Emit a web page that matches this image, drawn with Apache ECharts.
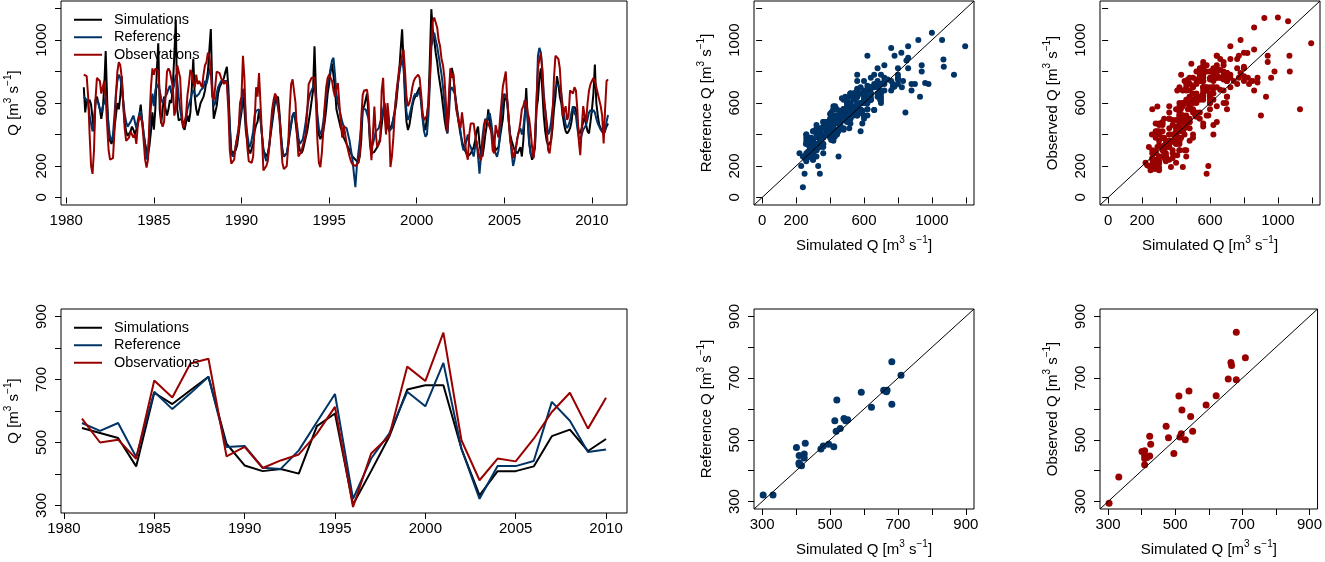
<!DOCTYPE html>
<html>
<head>
<meta charset="utf-8">
<script src="https://cdn.jsdelivr.net/npm/echarts@6.0.0/dist/echarts.min.js"></script>
<style>
  html, body { margin: 0; padding: 0; background: #fff; }
  #chart { width: 1325px; height: 562px; }
</style>
</head>
<body>
<div id="chart"></div>
<script>
// monthly discharge, one row per year (1981 ... 2010)
var startYear = 1981;
var simMonthly = [
	700,540,620,600,620,590,580,420,620,640,600,560,
	500,560,700,930,620,420,360,340,380,440,520,600,
	560,640,770,600,480,420,390,400,420,450,430,400,
	400,460,520,590,480,400,340,300,270,330,420,540,
	430,560,800,980,560,470,560,640,560,520,560,620,
	600,720,900,1130,560,490,480,500,450,430,440,520,
	480,540,700,880,640,560,520,560,600,620,640,680,
	680,800,940,1070,700,500,500,580,660,700,720,740,
	760,800,830,700,460,300,280,290,300,330,400,480,
	540,640,560,420,360,300,280,290,340,420,460,480,
	550,500,400,300,280,260,280,330,400,470,540,610,
	600,640,540,400,300,260,250,280,330,400,460,520,
	540,480,400,340,300,280,300,340,380,420,480,540,
	540,680,960,680,480,400,370,380,420,480,560,660,
	720,800,850,860,700,560,520,480,440,420,380,360,
	360,320,300,280,260,250,240,230,220,260,360,560,
	580,620,660,520,340,280,280,290,300,320,340,380,
	460,540,580,500,450,430,440,460,500,540,600,700,
	800,940,1068,860,620,480,428,460,520,580,620,640,
	640,680,700,620,520,450,428,440,600,880,1196,1060,
	1000,920,860,780,720,660,580,500,440,407,600,760,
	823,780,680,600,520,460,400,360,320,300,280,260,
	258,280,300,320,360,420,450,340,280,260,320,400,
	460,560,480,420,380,340,300,290,320,380,440,500,
	620,640,600,480,400,360,330,300,290,280,300,320,
	260,360,520,695,500,360,280,240,260,320,560,620,
	760,820,680,520,420,360,330,330,360,440,560,640,
	770,720,640,600,520,460,420,407,420,440,480,560,
	577,560,480,420,407,440,480,513,460,420,407,480,
	560,660,844,600,520,460,440,420,400,428,450,470
];
var refMonthly = [
	640,630,620,600,520,470,420,500,600,620,600,560,
	540,580,600,640,560,460,380,360,400,520,660,740,
	780,760,700,620,530,480,450,450,480,500,520,530,
	440,490,530,550,490,410,340,240,290,430,580,660,
	580,680,720,720,680,630,600,620,640,660,690,710,
	660,680,720,780,740,640,560,500,470,480,500,560,
	560,620,660,680,660,640,640,660,680,680,700,740,
	720,760,800,830,680,580,600,660,700,720,740,750,
	740,750,740,620,440,280,260,280,320,380,440,520,
	560,690,660,500,400,340,320,330,420,520,550,560,
	560,500,400,310,260,230,260,330,420,500,580,640,
	620,620,520,400,300,260,250,280,340,420,470,520,
	540,540,460,380,340,330,370,420,480,560,620,660,
	660,700,727,640,520,440,400,420,480,560,640,720,
	760,820,870,887,780,660,600,560,520,480,450,440,
	440,400,360,300,240,150,65,200,280,360,450,560,
	560,560,556,500,380,320,340,380,420,420,440,480,
	500,560,600,540,470,420,410,440,500,560,640,720,
	780,840,876,820,680,540,492,520,560,600,640,660,
	640,660,680,600,500,420,385,400,520,720,960,1000,
	1047,1000,960,900,840,780,700,600,480,410,520,680,
	700,705,660,600,540,480,420,340,300,320,360,400,
	340,320,290,260,320,360,260,151,260,380,460,500,
	480,520,535,480,400,320,280,258,300,400,520,620,
	660,660,620,500,380,280,200,240,320,380,420,440,
	400,440,520,620,480,340,278,260,280,340,560,900,
	950,920,820,660,560,480,400,420,480,560,640,700,
	720,720,700,660,580,520,460,440,460,490,540,580,
	535,520,440,380,365,400,430,440,460,500,540,556,
	540,556,540,500,470,450,430,420,407,420,480,524
];
var obsMonthly = [
	780,780,770,640,400,200,150,300,620,760,760,740,
	660,700,740,640,460,300,240,230,250,420,640,800,
	860,840,760,600,440,360,350,380,420,400,380,400,
	340,460,520,520,480,360,240,190,240,500,700,820,
	780,820,830,800,660,480,450,480,640,800,820,800,
	800,700,520,560,840,850,760,560,440,430,520,650,
	720,810,790,730,700,780,720,740,750,700,780,840,
	860,920,900,800,640,620,700,800,810,790,760,740,
	720,740,720,560,300,215,215,240,330,380,420,600,
	640,900,760,460,320,230,220,220,260,480,700,640,
	790,600,400,172,180,200,230,320,450,560,620,660,
	640,580,500,360,220,180,172,200,330,560,720,750,
	740,600,400,260,258,290,330,320,400,540,720,740,
	760,750,760,600,360,220,193,280,420,580,700,760,
	780,770,740,680,640,700,727,600,480,380,460,400,
	340,300,260,230,210,200,200,205,220,280,500,650,
	680,690,684,600,360,236,400,577,400,320,340,360,
	680,760,520,400,600,500,193,260,380,540,660,740,
	820,860,900,940,800,640,580,600,640,700,740,760,
	770,780,760,660,540,490,500,520,600,760,980,1120,
	1143,1140,1080,1000,960,880,840,760,600,420,640,820,
	760,790,680,560,520,460,440,540,460,360,280,240,
	400,470,470,470,400,340,300,258,236,300,420,492,
	492,470,480,420,300,280,460,420,380,492,600,705,
	700,800,620,500,360,320,250,260,320,380,420,480,
	560,580,620,600,540,500,420,320,250,380,620,820,
	880,918,800,620,556,440,300,280,360,520,760,900,
	900,880,820,660,513,520,580,492,520,680,680,660,
	700,680,560,360,268,440,580,520,480,600,680,720,
	740,760,740,700,660,620,580,520,343,560,740,750
];

// annual means 1981 ... 2010
var simAnnual = [546,530,514,424,658,622,666,709,496,427,409,416,401,552,592,303,409,518,668,682,682,480,332,409,409,424,520,541,473,511];
var refAnnual = [562,537,562,454,661,606,656,709,486,489,420,416,475,565,654,321,449,528,661,615,753,480,321,425,425,441,629,569,470,478];
var obsAnnual = [576,500,509,448,697,643,751,766,456,486,419,443,462,528,613,295,465,520,741,695,849,507,380,449,440,512,597,658,544,642];

var seriesNames = ['Simulations', 'Reference', 'Observations'];
var yearTicks = [1980, 1985, 1990, 1995, 2000, 2005, 2010];
var qTicksTop = [0, 200, 400, 600, 800, 1000, 1200];
var qLabelsTop = [0, 200, 600, 1000];
var qTicksBottom = [300, 400, 500, 600, 700, 800, 900];
var qLabelsBottom = [300, 500, 700, 900];

var FONT = 'Liberation Sans, Arial, sans-serif';
var colSim = '#000000', colRef = '#003366', colObs = '#990000';
var topRange = [-48, 1248], botRange = [276, 924];

function monthly(arr) {
	return arr.map(function(v, i) { return [startYear + i / 12, v]; });
}
function annual(arr) {
	return arr.map(function(v, i) { return [startYear + i, v]; });
}
function pairs(a, b) {
	return a.map(function(v, i) { return [v, b[i]]; });
}

var nameStyle = {
	fontSize: 15, color: '#000', fontFamily: FONT, lineHeight: 22,
	rich: { sup: { fontSize: 10, color: '#000', fontFamily: FONT, verticalAlign: 'top' } }
};
var unit = ' [m{sup|3} s{sup|\u22121}]';

function axis(gridIndex, range, ticks, labels, name, isY) {
	return {
		type: 'value',
		gridIndex: gridIndex,
		min: range[0],
		max: range[1],
		name: name,
		nameLocation: 'middle',
		nameGap: isY ? 36 : 30,
		nameTextStyle: nameStyle,
		axisLine: { show: false },
		splitLine: { show: false },
		axisTick: { show: true, length: 6, customValues: ticks, lineStyle: { color: '#000', width: 1 } },
		axisLabel: {
			customValues: labels,
			rotate: isY ? 90 : 0,
			margin: isY ? 12 : 8,
			fontSize: 15, color: '#000', fontFamily: FONT,
			formatter: function(v) { return String(v); }
		}
	};
}

function line(name, data, color, gi) {
	return { type: 'line', name: name, data: data, xAxisIndex: gi, yAxisIndex: gi,
		symbol: 'none', lineStyle: { color: color, width: 2 }, itemStyle: { color: color } };
}
function dots(name, data, color, gi, size) {
	return { type: 'scatter', name: name, data: data, xAxisIndex: gi, yAxisIndex: gi,
		symbolSize: size, itemStyle: { color: color, opacity: 1 } };
}
function oneToOne(gi, range) {
	return { type: 'line', name: '1:1', xAxisIndex: gi, yAxisIndex: gi, z: 5,
		data: [[range[0], range[0]], [range[1], range[1]]],
		symbol: 'none', lineStyle: { color: '#000', width: 1 } };
}
function legendAt(top) {
	return {
		data: seriesNames, orient: 'vertical', left: 74, top: top, padding: 0,
		itemWidth: 28, itemHeight: 2, itemGap: 0, icon: 'rect', selectedMode: false,
		textStyle: { fontSize: 14.5, color: '#000', fontFamily: FONT, lineHeight: 17.5, padding: [0, 0, 0, 7] }
	};
}

var gridBox = { show: true, borderColor: '#000', borderWidth: 1, backgroundColor: 'transparent' };
function grid(left, top, width, height) {
	return Object.assign({ left: left, top: top, width: width, height: height }, gridBox);
}

var chart = echarts.init(document.getElementById('chart'));
chart.setOption({
	animation: false,
	backgroundColor: '#fff',
	grid: [
		grid(61, 1, 566, 204),
		grid(754, 1, 220, 204),
		grid(1100, 1, 220, 204),
		grid(61, 309, 566, 204),
		grid(754, 309, 220, 204),
		grid(1100, 309, 220, 204)
	],
	xAxis: [
		axis(0, [1979.7, 2012.0], yearTicks, yearTicks, '', false),
		axis(1, topRange, qTicksTop, qLabelsTop, 'Simulated Q' + unit, false),
		axis(2, topRange, qTicksTop, qLabelsTop, 'Simulated Q' + unit, false),
		axis(3, [1979.84, 2011.16], yearTicks, yearTicks, '', false),
		axis(4, botRange, qTicksBottom, qLabelsBottom, 'Simulated Q' + unit, false),
		axis(5, botRange, qTicksBottom, qLabelsBottom, 'Simulated Q' + unit, false)
	],
	yAxis: [
		axis(0, topRange, qTicksTop, qLabelsTop, 'Q' + unit, true),
		axis(1, topRange, qTicksTop, qLabelsTop, 'Reference Q' + unit, true),
		axis(2, topRange, qTicksTop, qLabelsTop, 'Observed Q' + unit, true),
		axis(3, botRange, qTicksBottom, qLabelsBottom, 'Q' + unit, true),
		axis(4, botRange, qTicksBottom, qLabelsBottom, 'Reference Q' + unit, true),
		axis(5, botRange, qTicksBottom, qLabelsBottom, 'Observed Q' + unit, true)
	],
	legend: [legendAt(11), legendAt(319)],
	series: [
		line('Simulations', monthly(simMonthly), colSim, 0),
		line('Reference', monthly(refMonthly), colRef, 0),
		line('Observations', monthly(obsMonthly), colObs, 0),
		dots('ref-sim monthly', pairs(simMonthly, refMonthly), colRef, 1, 6),
		oneToOne(1, topRange),
		dots('obs-sim monthly', pairs(simMonthly, obsMonthly), colObs, 2, 6),
		oneToOne(2, topRange),
		line('Simulations', annual(simAnnual), colSim, 3),
		line('Reference', annual(refAnnual), colRef, 3),
		line('Observations', annual(obsAnnual), colObs, 3),
		dots('ref-sim annual', pairs(simAnnual, refAnnual), colRef, 4, 7),
		oneToOne(4, botRange),
		dots('obs-sim annual', pairs(simAnnual, obsAnnual), colObs, 5, 7),
		oneToOne(5, botRange)
	]
});
</script>
</body>
</html>
